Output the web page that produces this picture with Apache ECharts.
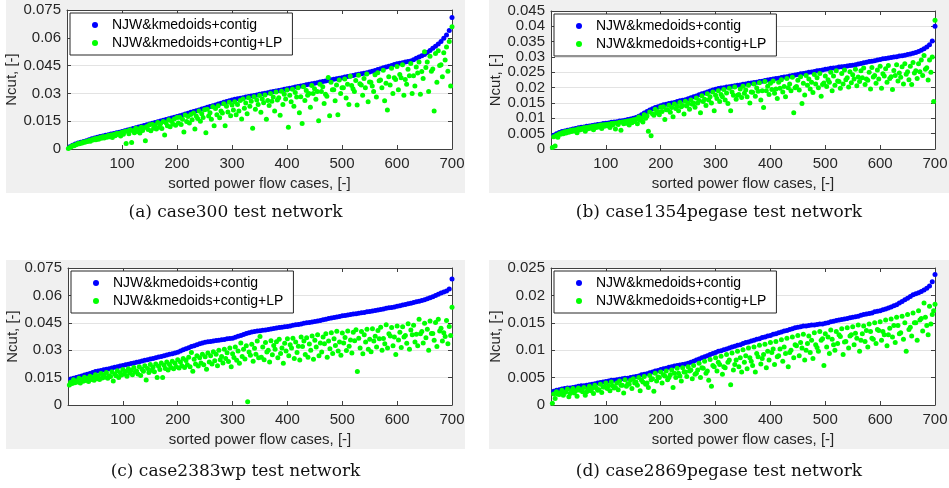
<!DOCTYPE html>
<html>
<head>
<meta charset="utf-8">
<script src="https://cdn.jsdelivr.net/npm/echarts@6/dist/echarts.min.js"></script>
<style>
  html, body { margin: 0; padding: 0; background: #fff; }
  #chart { width: 949px; height: 488px; }
</style>
</head>
<body>
<div id="chart"></div>
<script>
// sorted power flow case index (every 5th case), lower green points sit half a step to the left
const cases = [];
for (let i = 1; i <= 140; i++) cases.push(i * 5);
const casesMid = cases.map(c => c - 2.5);

const SERIES_CONTIG = 'NJW&kmedoids+contig';
const SERIES_LP = 'NJW&kmedoids+contig+LP';

// (a) case300
const case300Contig = [
  0.0012,0.0020,0.0027,0.0032,0.0037,0.0041,0.0045,0.0050,0.0055,0.0060,
  0.0063,0.0067,0.0070,0.0074,0.0077,0.0081,0.0084,0.0088,0.0091,0.0095,
  0.0099,0.0103,0.0107,0.0111,0.0115,0.0119,0.0123,0.0127,0.0131,0.0135,
  0.0139,0.0143,0.0147,0.0151,0.0155,0.0159,0.0163,0.0167,0.0171,0.0175,
  0.0180,0.0184,0.0189,0.0193,0.0198,0.0202,0.0207,0.0211,0.0216,0.0220,
  0.0225,0.0229,0.0234,0.0238,0.0243,0.0247,0.0252,0.0256,0.0261,0.0265,
  0.0268,0.0271,0.0274,0.0277,0.0280,0.0283,0.0286,0.0289,0.0292,0.0295,
  0.0298,0.0301,0.0304,0.0307,0.0310,0.0313,0.0316,0.0319,0.0322,0.0325,
  0.0328,0.0331,0.0334,0.0337,0.0340,0.0343,0.0346,0.0349,0.0352,0.0355,
  0.0358,0.0361,0.0364,0.0367,0.0370,0.0373,0.0376,0.0379,0.0382,0.0385,
  0.0388,0.0391,0.0394,0.0397,0.0400,0.0403,0.0406,0.0409,0.0412,0.0415,
  0.0420,0.0424,0.0429,0.0433,0.0438,0.0442,0.0447,0.0451,0.0456,0.0460,
  0.0463,0.0466,0.0469,0.0472,0.0475,0.0482,0.0489,0.0496,0.0503,0.0510,
  0.0521,0.0532,0.0544,0.0555,0.0567,0.0580,0.0597,0.0615,0.0640,0.0710
];
const case300LpHi = [
  0.0008,0.0017,0.0022,0.0030,0.0033,0.0038,0.0040,0.0046,0.0050,0.0055,
  0.0058,0.0062,0.0066,0.0068,0.0073,0.0076,0.0078,0.0084,0.0085,0.0090,
  0.0094,0.0097,0.0104,0.0098,0.0112,0.0108,0.0118,0.0115,0.0122,0.0131,
  0.0133,0.0128,0.0143,0.0136,0.0149,0.0141,0.0158,0.0150,0.0162,0.0170,
  0.0171,0.0160,0.0184,0.0176,0.0186,0.0194,0.0178,0.0205,0.0190,0.0212,
  0.0214,0.0195,0.0228,0.0218,0.0233,0.0205,0.0244,0.0230,0.0252,0.0238,
  0.0255,0.0240,0.0262,0.0270,0.0248,0.0276,0.0258,0.0282,0.0265,0.0288,
  0.0270,0.0292,0.0262,0.0300,0.0280,0.0307,0.0276,0.0312,0.0295,0.0318,
  0.0290,0.0322,0.0305,0.0330,0.0282,0.0336,0.0315,0.0300,0.0342,0.0325,
  0.0310,0.0350,0.0336,0.0295,0.0386,0.0360,0.0320,0.0345,0.0372,0.0330,
  0.0378,0.0350,0.0392,0.0325,0.0370,0.0398,0.0345,0.0380,0.0405,0.0362,
  0.0340,0.0400,0.0412,0.0372,0.0425,0.0355,0.0390,0.0436,0.0385,0.0445,
  0.0402,0.0455,0.0375,0.0430,0.0462,0.0395,0.0442,0.0470,0.0418,0.0525,
  0.0470,0.0500,0.0432,0.0515,0.0530,0.0455,0.0520,0.0550,0.0580,0.0660
];
const case300LpLo = [
  0.0003,0.0012,0.0018,0.0024,0.0028,0.0032,0.0036,0.0040,0.0042,0.0048,
  0.0050,0.0052,0.0058,0.0060,0.0064,0.0066,0.0062,0.0072,0.0078,0.0070,
  0.0080,0.0030,0.0082,0.0035,0.0088,0.0094,0.0086,0.0100,0.0045,0.0105,
  0.0098,0.0112,0.0108,0.0118,0.0110,0.0075,0.0126,0.0120,0.0135,0.0128,
  0.0140,0.0132,0.0092,0.0148,0.0140,0.0158,0.0108,0.0165,0.0150,0.0170,
  0.0088,0.0178,0.0160,0.0125,0.0185,0.0168,0.0194,0.0125,0.0200,0.0180,
  0.0210,0.0185,0.0205,0.0162,0.0220,0.0190,0.0230,0.0112,0.0215,0.0240,
  0.0198,0.0250,0.0160,0.0235,0.0258,0.0205,0.0265,0.0182,0.0240,0.0270,
  0.0118,0.0255,0.0230,0.0280,0.0195,0.0138,0.0262,0.0290,0.0225,0.0300,
  0.0268,0.0152,0.0310,0.0245,0.0285,0.0180,0.0320,0.0260,0.0185,0.0300,
  0.0330,0.0275,0.0240,0.0342,0.0310,0.0238,0.0352,0.0290,0.0330,0.0255,
  0.0360,0.0310,0.0280,0.0368,0.0330,0.0260,0.0210,0.0345,0.0300,0.0375,
  0.0320,0.0385,0.0290,0.0350,0.0395,0.0300,0.0340,0.0410,0.0295,0.0380,
  0.0440,0.0310,0.0420,0.0205,0.0360,0.0450,0.0390,0.0480,0.0420,0.0340
];

// (b) case1354pegase
const case1354Contig = [
  0.0045,0.0050,0.0054,0.0057,0.0059,0.0061,0.0063,0.0065,0.0067,0.0069,
  0.0071,0.0072,0.0074,0.0075,0.0077,0.0078,0.0080,0.0081,0.0083,0.0084,
  0.0085,0.0087,0.0088,0.0089,0.0091,0.0092,0.0094,0.0096,0.0098,0.0100,
  0.0103,0.0107,0.0112,0.0117,0.0122,0.0127,0.0131,0.0135,0.0138,0.0141,
  0.0144,0.0146,0.0148,0.0150,0.0152,0.0155,0.0157,0.0159,0.0161,0.0164,
  0.0167,0.0170,0.0173,0.0177,0.0180,0.0183,0.0186,0.0189,0.0192,0.0195,
  0.0197,0.0199,0.0200,0.0202,0.0203,0.0205,0.0206,0.0208,0.0209,0.0211,
  0.0212,0.0214,0.0215,0.0217,0.0218,0.0220,0.0221,0.0223,0.0225,0.0227,
  0.0228,0.0230,0.0231,0.0233,0.0235,0.0236,0.0238,0.0240,0.0241,0.0243,
  0.0245,0.0246,0.0248,0.0250,0.0251,0.0253,0.0255,0.0256,0.0258,0.0260,
  0.0261,0.0263,0.0264,0.0265,0.0267,0.0268,0.0269,0.0271,0.0272,0.0273,
  0.0275,0.0277,0.0279,0.0281,0.0283,0.0285,0.0286,0.0288,0.0290,0.0292,
  0.0294,0.0295,0.0297,0.0298,0.0300,0.0301,0.0303,0.0304,0.0306,0.0308,
  0.0310,0.0312,0.0315,0.0318,0.0322,0.0327,0.0333,0.0340,0.0352,0.0400
];
const case1354LpHi = [
  0.0040,0.0045,0.0050,0.0053,0.0056,0.0058,0.0060,0.0062,0.0063,0.0066,
  0.0067,0.0069,0.0070,0.0072,0.0073,0.0075,0.0076,0.0078,0.0079,0.0080,
  0.0081,0.0083,0.0084,0.0085,0.0087,0.0088,0.0090,0.0091,0.0093,0.0095,
  0.0097,0.0104,0.0100,0.0112,0.0108,0.0121,0.0115,0.0130,0.0122,0.0136,
  0.0138,0.0128,0.0143,0.0135,0.0147,0.0139,0.0152,0.0142,0.0156,0.0148,
  0.0160,0.0150,0.0166,0.0158,0.0174,0.0162,0.0180,0.0170,0.0186,0.0175,
  0.0190,0.0178,0.0194,0.0183,0.0198,0.0186,0.0202,0.0175,0.0196,0.0205,
  0.0192,0.0208,0.0186,0.0212,0.0199,0.0216,0.0190,0.0220,0.0205,0.0214,
  0.0222,0.0196,0.0218,0.0226,0.0204,0.0230,0.0212,0.0234,0.0200,0.0224,
  0.0236,0.0214,0.0240,0.0228,0.0218,0.0243,0.0232,0.0246,0.0210,0.0238,
  0.0226,0.0250,0.0238,0.0255,0.0220,0.0246,0.0258,0.0232,0.0252,0.0242,
  0.0260,0.0235,0.0255,0.0264,0.0228,0.0250,0.0266,0.0240,0.0258,0.0270,
  0.0245,0.0262,0.0272,0.0236,0.0256,0.0275,0.0248,0.0268,0.0278,0.0252,
  0.0270,0.0282,0.0255,0.0278,0.0290,0.0305,0.0265,0.0290,0.0300,0.0420
];
const case1354LpLo = [
  0.0005,0.0010,0.0038,0.0048,0.0050,0.0052,0.0055,0.0057,0.0059,0.0053,
  0.0062,0.0064,0.0058,0.0066,0.0068,0.0063,0.0070,0.0072,0.0067,0.0074,
  0.0076,0.0070,0.0078,0.0065,0.0080,0.0061,0.0082,0.0084,0.0078,0.0086,
  0.0090,0.0082,0.0094,0.0088,0.0100,0.0058,0.0043,0.0110,0.0118,0.0112,
  0.0122,0.0096,0.0128,0.0120,0.0105,0.0132,0.0125,0.0138,0.0114,0.0140,
  0.0130,0.0146,0.0136,0.0150,0.0118,0.0155,0.0142,0.0160,0.0150,0.0125,
  0.0165,0.0155,0.0170,0.0160,0.0148,0.0125,0.0175,0.0162,0.0178,0.0168,
  0.0182,0.0170,0.0150,0.0185,0.0172,0.0188,0.0160,0.0135,0.0190,0.0178,
  0.0194,0.0182,0.0165,0.0198,0.0186,0.0170,0.0200,0.0190,0.0118,0.0204,
  0.0192,0.0148,0.0176,0.0208,0.0196,0.0184,0.0212,0.0200,0.0172,0.0215,
  0.0204,0.0218,0.0190,0.0208,0.0222,0.0198,0.0212,0.0226,0.0202,0.0216,
  0.0228,0.0206,0.0220,0.0232,0.0210,0.0224,0.0196,0.0235,0.0214,0.0228,
  0.0198,0.0238,0.0218,0.0230,0.0194,0.0240,0.0222,0.0234,0.0212,0.0244,
  0.0226,0.0210,0.0248,0.0230,0.0252,0.0240,0.0260,0.0225,0.0250,0.0155
];

// (c) case2383wp
const case2383Contig = [
  0.0142,0.0146,0.0150,0.0155,0.0159,0.0164,0.0168,0.0173,0.0178,0.0183,
  0.0186,0.0189,0.0193,0.0196,0.0199,0.0203,0.0206,0.0209,0.0213,0.0216,
  0.0220,0.0223,0.0227,0.0230,0.0234,0.0237,0.0241,0.0245,0.0248,0.0252,
  0.0255,0.0259,0.0263,0.0266,0.0270,0.0274,0.0278,0.0281,0.0285,0.0289,
  0.0295,0.0302,0.0308,0.0314,0.0320,0.0325,0.0330,0.0335,0.0339,0.0344,
  0.0346,0.0348,0.0350,0.0353,0.0355,0.0357,0.0359,0.0362,0.0364,0.0366,
  0.0371,0.0376,0.0381,0.0386,0.0391,0.0396,0.0400,0.0403,0.0405,0.0406,
  0.0409,0.0411,0.0414,0.0416,0.0419,0.0421,0.0424,0.0426,0.0428,0.0430,
  0.0433,0.0436,0.0439,0.0441,0.0444,0.0447,0.0450,0.0452,0.0455,0.0457,
  0.0460,0.0463,0.0467,0.0470,0.0473,0.0476,0.0479,0.0482,0.0485,0.0488,
  0.0490,0.0493,0.0495,0.0498,0.0500,0.0502,0.0505,0.0507,0.0510,0.0512,
  0.0515,0.0518,0.0520,0.0523,0.0526,0.0529,0.0532,0.0534,0.0537,0.0540,
  0.0543,0.0547,0.0550,0.0554,0.0557,0.0561,0.0565,0.0568,0.0572,0.0576,
  0.0581,0.0587,0.0593,0.0600,0.0606,0.0613,0.0618,0.0624,0.0635,0.0690
];
const case2383LpHi = [
  0.0125,0.0138,0.0130,0.0146,0.0140,0.0152,0.0145,0.0158,0.0150,0.0165,
  0.0158,0.0172,0.0165,0.0178,0.0160,0.0182,0.0170,0.0188,0.0176,0.0195,
  0.0184,0.0198,0.0190,0.0205,0.0186,0.0210,0.0196,0.0215,0.0200,0.0222,
  0.0206,0.0225,0.0212,0.0230,0.0218,0.0235,0.0222,0.0240,0.0228,0.0248,
  0.0236,0.0255,0.0244,0.0262,0.0288,0.0250,0.0270,0.0258,0.0278,0.0264,
  0.0284,0.0270,0.0292,0.0278,0.0300,0.0265,0.0305,0.0286,0.0312,0.0280,
  0.0318,0.0295,0.0340,0.0305,0.0325,0.0290,0.0332,0.0310,0.0350,0.0375,
  0.0318,0.0342,0.0300,0.0352,0.0326,0.0346,0.0360,0.0312,0.0338,0.0362,
  0.0330,0.0366,0.0345,0.0322,0.0372,0.0350,0.0368,0.0334,0.0378,0.0355,
  0.0385,0.0340,0.0372,0.0390,0.0350,0.0395,0.0362,0.0404,0.0345,0.0394,
  0.0370,0.0405,0.0356,0.0398,0.0412,0.0366,0.0402,0.0385,0.0415,0.0360,
  0.0418,0.0376,0.0408,0.0425,0.0364,0.0440,0.0390,0.0424,0.0372,0.0432,
  0.0398,0.0428,0.0380,0.0445,0.0410,0.0436,0.0388,0.0470,0.0402,0.0448,
  0.0415,0.0460,0.0392,0.0452,0.0470,0.0420,0.0395,0.0462,0.0430,0.0535
];
const case2383LpLo = [
  0.0110,0.0118,0.0122,0.0126,0.0120,0.0130,0.0134,0.0128,0.0140,0.0136,
  0.0144,0.0140,0.0148,0.0152,0.0146,0.0156,0.0132,0.0160,0.0150,0.0164,
  0.0170,0.0158,0.0175,0.0165,0.0180,0.0170,0.0162,0.0185,0.0137,0.0178,
  0.0190,0.0182,0.0150,0.0195,0.0150,0.0200,0.0192,0.0205,0.0198,0.0210,
  0.0202,0.0215,0.0205,0.0220,0.0210,0.0185,0.0225,0.0214,0.0230,0.0220,
  0.0196,0.0236,0.0225,0.0242,0.0215,0.0248,0.0230,0.0254,0.0238,0.0210,
  0.0260,0.0245,0.0228,0.0266,0.0252,0.0018,0.0272,0.0240,0.0278,0.0258,
  0.0262,0.0248,0.0290,0.0236,0.0275,0.0305,0.0258,0.0282,0.0228,0.0296,
  0.0270,0.0312,0.0255,0.0288,0.0246,0.0320,0.0276,0.0262,0.0300,0.0250,
  0.0318,0.0270,0.0290,0.0335,0.0262,0.0308,0.0282,0.0326,0.0296,0.0272,
  0.0340,0.0298,0.0322,0.0285,0.0352,0.0183,0.0312,0.0280,0.0345,0.0305,
  0.0292,0.0350,0.0318,0.0362,0.0300,0.0335,0.0312,0.0378,0.0325,0.0276,
  0.0356,0.0315,0.0372,0.0338,0.0305,0.0384,0.0345,0.0325,0.0390,0.0340,
  0.0368,0.0300,0.0392,0.0355,0.0320,0.0405,0.0350,0.0375,0.0335,0.0380
];

// (d) case2869pegase
const case2869Contig = [
  0.0025,0.0027,0.0028,0.0029,0.0030,0.0031,0.0031,0.0032,0.0033,0.0034,
  0.0035,0.0035,0.0036,0.0037,0.0038,0.0039,0.0040,0.0041,0.0042,0.0043,
  0.0044,0.0045,0.0045,0.0046,0.0047,0.0048,0.0049,0.0049,0.0050,0.0051,
  0.0052,0.0053,0.0055,0.0056,0.0057,0.0059,0.0060,0.0062,0.0063,0.0065,
  0.0066,0.0067,0.0069,0.0070,0.0071,0.0072,0.0073,0.0074,0.0075,0.0076,
  0.0078,0.0080,0.0082,0.0084,0.0086,0.0088,0.0090,0.0092,0.0094,0.0096,
  0.0098,0.0099,0.0101,0.0102,0.0104,0.0106,0.0107,0.0109,0.0110,0.0112,
  0.0114,0.0115,0.0117,0.0118,0.0120,0.0121,0.0123,0.0124,0.0126,0.0127,
  0.0129,0.0130,0.0132,0.0133,0.0135,0.0136,0.0138,0.0139,0.0141,0.0142,
  0.0143,0.0144,0.0144,0.0145,0.0146,0.0146,0.0147,0.0148,0.0148,0.0149,
  0.0150,0.0152,0.0153,0.0154,0.0155,0.0156,0.0157,0.0158,0.0159,0.0160,
  0.0161,0.0162,0.0164,0.0165,0.0166,0.0167,0.0168,0.0170,0.0171,0.0172,
  0.0174,0.0175,0.0177,0.0179,0.0181,0.0183,0.0186,0.0189,0.0192,0.0195,
  0.0198,0.0201,0.0203,0.0205,0.0207,0.0210,0.0213,0.0217,0.0225,0.0238
];
const case2869LpHi = [
  0.0020,0.0024,0.0019,0.0027,0.0023,0.0029,0.0021,0.0030,0.0026,0.0031,
  0.0028,0.0032,0.0024,0.0034,0.0030,0.0036,0.0027,0.0038,0.0033,0.0040,
  0.0035,0.0042,0.0031,0.0040,0.0044,0.0036,0.0046,0.0039,0.0045,0.0048,
  0.0042,0.0050,0.0045,0.0052,0.0040,0.0054,0.0048,0.0058,0.0051,0.0060,
  0.0055,0.0062,0.0050,0.0064,0.0058,0.0067,0.0053,0.0068,0.0060,0.0070,
  0.0064,0.0072,0.0058,0.0076,0.0068,0.0080,0.0062,0.0083,0.0072,0.0086,
  0.0078,0.0089,0.0070,0.0092,0.0082,0.0095,0.0074,0.0098,0.0086,0.0101,
  0.0090,0.0104,0.0080,0.0106,0.0094,0.0109,0.0085,0.0111,0.0098,0.0114,
  0.0102,0.0116,0.0090,0.0119,0.0106,0.0122,0.0096,0.0124,0.0110,0.0127,
  0.0114,0.0129,0.0100,0.0126,0.0118,0.0132,0.0105,0.0134,0.0121,0.0130,
  0.0124,0.0137,0.0110,0.0134,0.0128,0.0139,0.0115,0.0141,0.0126,0.0143,
  0.0131,0.0146,0.0118,0.0144,0.0136,0.0148,0.0122,0.0150,0.0138,0.0152,
  0.0134,0.0155,0.0128,0.0157,0.0145,0.0160,0.0130,0.0162,0.0150,0.0165,
  0.0142,0.0168,0.0150,0.0172,0.0158,0.0186,0.0145,0.0180,0.0165,0.0184
];
const case2869LpLo = [
  0.0003,0.0012,0.0020,0.0022,0.0018,0.0024,0.0015,0.0026,0.0022,0.0016,
  0.0027,0.0024,0.0018,0.0029,0.0026,0.0021,0.0031,0.0028,0.0023,0.0033,
  0.0030,0.0026,0.0035,0.0032,0.0028,0.0036,0.0022,0.0034,0.0038,0.0030,
  0.0040,0.0036,0.0026,0.0042,0.0038,0.0032,0.0046,0.0025,0.0044,0.0050,
  0.0040,0.0053,0.0046,0.0055,0.0032,0.0050,0.0058,0.0044,0.0060,0.0052,
  0.0062,0.0048,0.0056,0.0064,0.0050,0.0067,0.0058,0.0045,0.0034,0.0070,
  0.0062,0.0074,0.0056,0.0068,0.0078,0.0037,0.0064,0.0082,0.0070,0.0060,
  0.0078,0.0066,0.0086,0.0072,0.0060,0.0088,0.0075,0.0092,0.0068,0.0082,
  0.0096,0.0074,0.0088,0.0102,0.0080,0.0094,0.0070,0.0100,0.0086,0.0108,
  0.0090,0.0104,0.0082,0.0112,0.0096,0.0085,0.0110,0.0098,0.0118,0.0072,
  0.0106,0.0094,0.0120,0.0100,0.0112,0.0125,0.0092,0.0116,0.0104,0.0128,
  0.0110,0.0122,0.0098,0.0130,0.0116,0.0106,0.0134,0.0120,0.0112,0.0136,
  0.0118,0.0128,0.0108,0.0140,0.0124,0.0114,0.0145,0.0132,0.0120,0.0098,
  0.0138,0.0126,0.0150,0.0118,0.0155,0.0135,0.0160,0.0128,0.0148,0.0172
];

const panels = [
  { contig: case300Contig, hi: case300LpHi, lo: case300LpLo, yMax: 0.075, yStep: 0.015,
    grid: { left: 67, top: 10, width: 385, height: 139 }, bg: [6, 0, 459, 193],
    caption: '(a) case300 test network', capX: 235.5, capY: 213 },
  { contig: case1354Contig, hi: case1354LpHi, lo: case1354LpLo, yMax: 0.045, yStep: 0.005,
    grid: { left: 551, top: 11, width: 384, height: 138 }, bg: [489, 0, 460, 193],
    caption: '(b) case1354pegase test network', capX: 719, capY: 213 },
  { contig: case2383Contig, hi: case2383LpHi, lo: case2383LpLo, yMax: 0.075, yStep: 0.015,
    grid: { left: 68, top: 268, width: 384, height: 137 }, bg: [6, 260, 459, 189],
    caption: '(c) case2383wp test network', capX: 235.5, capY: 472 },
  { contig: case2869Contig, hi: case2869LpHi, lo: case2869LpLo, yMax: 0.025, yStep: 0.005,
    grid: { left: 551, top: 268, width: 384, height: 137 }, bg: [489, 260, 460, 189],
    caption: '(d) case2869pegase test network', capX: 719, capY: 472 }
];

const AXIS_COLOR = '#404040';
const TEXT_COLOR = '#262626';
const FONT = 'Liberation Sans';

const option = {
  backgroundColor: '#fff',
  animation: false,
  grid: [], xAxis: [], yAxis: [], series: [], legend: [], graphic: []
};

panels.forEach((p, i) => {
  option.grid.push(Object.assign({
    show: true, backgroundColor: '#fff', borderWidth: 0, outerBoundsMode: 'none'
  }, p.grid));

  const tickStyle = { show: true, inside: true, length: 4, lineStyle: { color: AXIS_COLOR } };
  const lineStyle = { show: true, onZero: false, lineStyle: { color: AXIS_COLOR, width: 1 } };

  // bottom x axis
  option.xAxis.push({
    type: 'value', gridIndex: i, min: 0, max: 700, interval: 100, position: 'bottom',
    axisLine: lineStyle, axisTick: tickStyle, splitLine: { show: false },
    axisLabel: {
      color: TEXT_COLOR, fontFamily: FONT, fontSize: 15, margin: 7,
      formatter: v => (v === 0 ? '' : String(v))
    },
    name: 'sorted power flow cases, [-]', nameLocation: 'middle', nameGap: 27,
    nameTextStyle: { color: TEXT_COLOR, fontFamily: FONT, fontSize: 15 }
  });
  // top x axis (box + ticks only)
  option.xAxis.push({
    type: 'value', gridIndex: i, min: 0, max: 700, interval: 100, position: 'top',
    axisLine: lineStyle, axisTick: tickStyle, splitLine: { show: false },
    axisLabel: { show: false }
  });
  // left y axis
  option.yAxis.push({
    type: 'value', gridIndex: i, min: 0, max: p.yMax, interval: p.yStep, position: 'left',
    axisLine: lineStyle, axisTick: tickStyle,
    splitLine: { show: true, lineStyle: { color: '#e3e3e3', width: 1 } },
    axisLabel: { color: TEXT_COLOR, fontFamily: FONT, fontSize: 15, margin: 6 },
    name: 'Ncut, [-]', nameLocation: 'middle', nameGap: 46, nameRotate: 90,
    nameTextStyle: { color: TEXT_COLOR, fontFamily: FONT, fontSize: 15 }
  });
  // right y axis (box + ticks only)
  option.yAxis.push({
    type: 'value', gridIndex: i, min: 0, max: p.yMax, interval: p.yStep, position: 'right',
    axisLine: lineStyle, axisTick: tickStyle, splitLine: { show: false },
    axisLabel: { show: false }
  });

  option.series.push({
    name: SERIES_CONTIG, type: 'scatter', xAxisIndex: i * 2, yAxisIndex: i * 2,
    symbol: 'circle', symbolSize: 5, itemStyle: { color: '#0000ff', opacity: 1 },
    data: cases.map((c, k) => [c, p.contig[k]])
  });
  const lpData = cases.map((c, k) => [c, p.hi[k]])
    .concat(casesMid.map((c, k) => [c, p.lo[k]]));
  option.series.push({
    name: SERIES_LP, type: 'scatter', xAxisIndex: i * 2, yAxisIndex: i * 2,
    symbol: 'circle', symbolSize: 5, itemStyle: { color: '#00ff00', opacity: 1 },
    data: lpData
  });

  option.legend.push({
    data: [SERIES_CONTIG, SERIES_LP], orient: 'vertical',
    left: p.grid.left + 3, top: p.grid.top + 3,
    backgroundColor: '#fff', borderColor: '#262626', borderWidth: 1, borderRadius: 0,
    padding: [5, 10, 5, 22], itemGap: 4, itemWidth: 6, itemHeight: 6, icon: 'circle',
    selectedMode: false,
    textStyle: { color: '#000', fontFamily: FONT, fontSize: 14, lineHeight: 14, padding: [0, 0, 0, 9] }
  });

  option.graphic.push({
    type: 'rect', z: -10, silent: true,
    shape: { x: p.bg[0], y: p.bg[1], width: p.bg[2], height: p.bg[3] },
    style: { fill: '#f0f0f0' }
  });
  option.graphic.push({
    type: 'text', silent: true,
    style: {
      x: p.capX, y: p.capY, text: p.caption, fill: '#111',
      font: '17px "DejaVu Serif"', align: 'center', verticalAlign: 'middle'
    }
  });
});

const chart = echarts.init(document.getElementById('chart'));
chart.setOption(option);
</script>
</body>
</html>
